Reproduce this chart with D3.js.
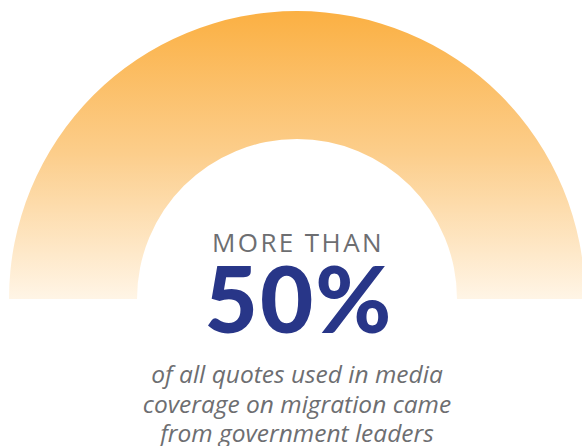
<!DOCTYPE html>
<html><head><meta charset="utf-8">
<script src="https://cdn.jsdelivr.net/npm/d3@7"></script>
<style>html,body{margin:0;padding:0;background:#fff;}svg{display:block;}</style>
</head><body>
<svg id="chart" width="582" height="446"></svg>
<script>
const headline = ["MORE THAN"];
const value = [50];
const valueSuffix = ["%"];
const caption = ["of all quotes used in media", "coverage on migration came", "from government leaders"];
const gradientStops = [["0%", "#fbb043"], ["50%", "#fcce8c"], ["100%", "#fff5e6"]];

const W = 582, H = 446;
const cx = 297, cy = 299, R = 288, r = 160;
const svg = d3.select("#chart");

const defs = svg.append("defs");
const grad = defs.append("linearGradient").attr("id", "g")
  .attr("gradientUnits", "userSpaceOnUse")
  .attr("x1", 0).attr("y1", -R).attr("x2", 0).attr("y2", 0);
grad.selectAll("stop").data(gradientStops).join("stop")
  .attr("offset", d => d[0]).attr("stop-color", d => d[1]);

const angle = d3.scaleLinear().domain([0, 100]).range([-Math.PI / 2, Math.PI / 2]);
const arc = d3.arc().innerRadius(r).outerRadius(R);
const g = svg.append("g").attr("transform", `translate(${cx},${cy})`);
g.append("path")
  .attr("d", arc({startAngle: angle(0), endAngle: angle(100)}))
  .attr("fill", "url(#g)");

svg.append("text").text(headline[0])
  .attr("x", cx + 1).attr("y", 252).attr("text-anchor", "middle")
  .attr("font-family", "'Open Sans', sans-serif").attr("font-size", 26)
  .attr("letter-spacing", 2.4).attr("fill", "#6d6e71");

svg.append("text").text(value[0] + valueSuffix[0])
  .attr("x", cx + 2).attr("y", 333).attr("text-anchor", "middle")
  .attr("font-family", "Lato, sans-serif").attr("font-weight", 900).attr("font-size", 92)
  .attr("letter-spacing", 2).attr("fill", "#283688");

svg.selectAll("text.cap").data(caption).join("text").attr("class", "cap")
  .text(d => d)
  .attr("x", cx).attr("y", (d, i) => 383 + i * 29.5).attr("text-anchor", "middle")
  .attr("font-family", "'Open Sans', sans-serif").attr("font-style", "italic")
  .attr("font-size", 24.5).attr("fill", "#6d6e71");
</script>
</body></html>
